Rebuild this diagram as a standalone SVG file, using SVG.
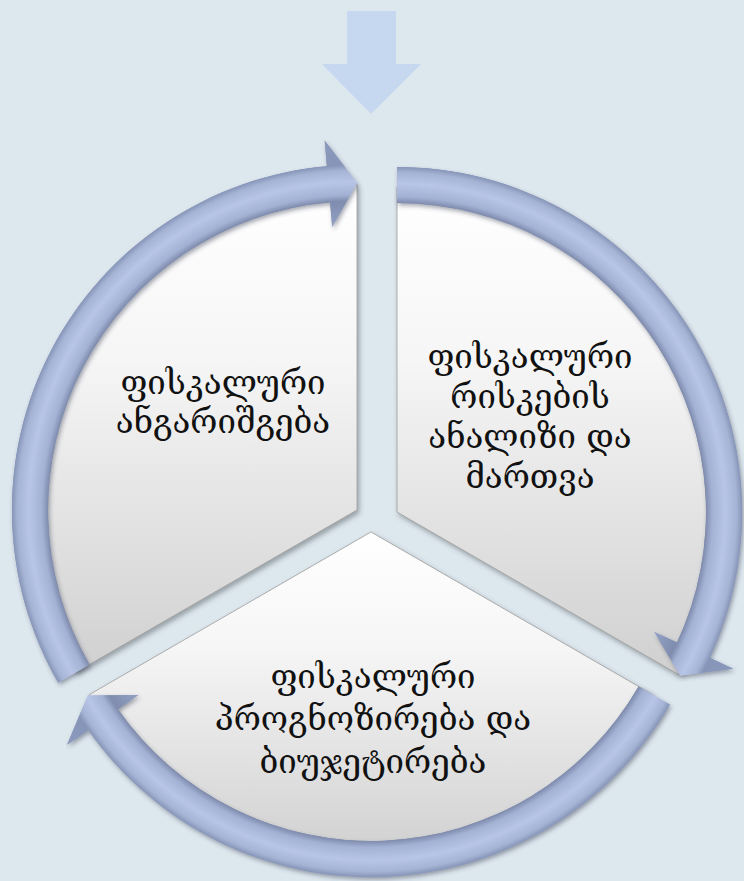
<svg xmlns="http://www.w3.org/2000/svg" width="744" height="881" viewBox="0 0 744 881">
<style>
.lbl{font-family:"DejaVu Serif","DejaVu Sans",serif;font-size:33px;fill:#111;text-anchor:middle}
.sec{stroke:#9c9c9c;stroke-width:0.8;filter:url(#sh)}
.arr{filter:url(#sh2)}
</style>
<defs>
<filter id="sh" x="-10%" y="-10%" width="120%" height="120%">
<feDropShadow dx="2" dy="3" stdDeviation="2.5" flood-color="#404850" flood-opacity="0.45"/>
</filter>
<filter id="sh2" x="-10%" y="-10%" width="120%" height="120%">
<feDropShadow dx="1.5" dy="2.5" stdDeviation="2" flood-color="#303a50" flood-opacity="0.45"/>
</filter>
<linearGradient id="gs" x1="0" y1="0" x2="0" y2="1">
<stop offset="0" stop-color="#ffffff"/>
<stop offset="0.35" stop-color="#f6f6f6"/>
<stop offset="1" stop-color="#d0d0d0"/>
</linearGradient>
<radialGradient id="ga1" gradientUnits="userSpaceOnUse" cx="357" cy="510" r="371">
<stop offset="0.765" stop-color="#94a2c6"/>
<stop offset="0.833" stop-color="#7f8cae"/>
<stop offset="0.85" stop-color="#a3b1d4"/>
<stop offset="0.885" stop-color="#b8c5e6"/>
<stop offset="0.915" stop-color="#a5b3d5"/>
<stop offset="0.93" stop-color="#8795b8"/>
<stop offset="1" stop-color="#8b99bc"/>
</radialGradient>
<radialGradient id="ga2" gradientUnits="userSpaceOnUse" cx="397" cy="512" r="371" href="#ga1"/>
<radialGradient id="ga3" gradientUnits="userSpaceOnUse" cx="371" cy="532" r="371" href="#ga1"/>
<linearGradient id="gshade" gradientUnits="userSpaceOnUse" x1="0" y1="140" x2="0" y2="880">
<stop offset="0" stop-color="#ffffff" stop-opacity="0.18"/>
<stop offset="0.5" stop-color="#ffffff" stop-opacity="0"/>
<stop offset="1" stop-color="#1a2440" stop-opacity="0.12"/>
</linearGradient>
</defs>
<rect width="744" height="881" fill="#dde7ee"/>
<g id="node-left">
<path class="sec" fill="url(#gs)" d="M357,510 L75.5,672.5 A325,325 0 0 1 357,185 Z"/>
<text class="lbl"><tspan x="223" y="394">ფისკალური</tspan><tspan x="223" y="433">ანგარიშგება</tspan></text>
</g>
<g id="node-right">
<path class="sec" fill="url(#gs)" d="M397,512 L397,187 A325,325 0 0 1 678.5,674.5 Z"/>
<text class="lbl"><tspan x="530" y="368">ფისკალური</tspan><tspan x="530" y="408">რისკების</tspan><tspan x="530" y="448">ანალიზი და</tspan><tspan x="530" y="488">მართვა</tspan></text>
</g>
<g id="node-bottom">
<path class="sec" fill="url(#gs)" d="M371,532 L652.5,694.5 A325,325 0 0 1 89.5,694.5 Z"/>
<text class="lbl"><tspan x="373" y="688">ფისკალური</tspan><tspan x="373" y="730">პროგნოზირება და</tspan><tspan x="373" y="773">ბიუჯეტირება</tspan></text>
</g>
<g id="connectors">
<polygon fill="#c5d8ef" points="347,11 396,11 396,64 421,64 371,114 322,64 347,64"/>
<g class="arr">
<path id="a1" fill="url(#ga1)" d="M89.4,664.5 A309,309 0 0 1 330.1,202.2 L332.2,227.1 L357,183 L324.7,140.4 L326.9,166.3 A345,345 0 0 0 58.2,682.5 Z"/>
<path id="a2" fill="url(#ga2)" d="M397,203 A309,309 0 0 1 677.05,642.6 L654.4,632 L680.2,675.5 L733.2,668.8 L709.7,657.8 A345,345 0 0 0 397,167 Z"/>
<path id="a3" fill="url(#ga3)" d="M638.6,686.5 A309,309 0 0 1 117.9,709.2 L138.4,694.9 L87.8,695.5 L67.1,744.8 L88.4,729.9 A345,345 0 0 0 669.8,704.5 Z"/>
</g>
<use href="#a1" fill="url(#gshade)"/>
<use href="#a2" fill="url(#gshade)"/>
<use href="#a3" fill="url(#gshade)"/>
</g>
</svg>
